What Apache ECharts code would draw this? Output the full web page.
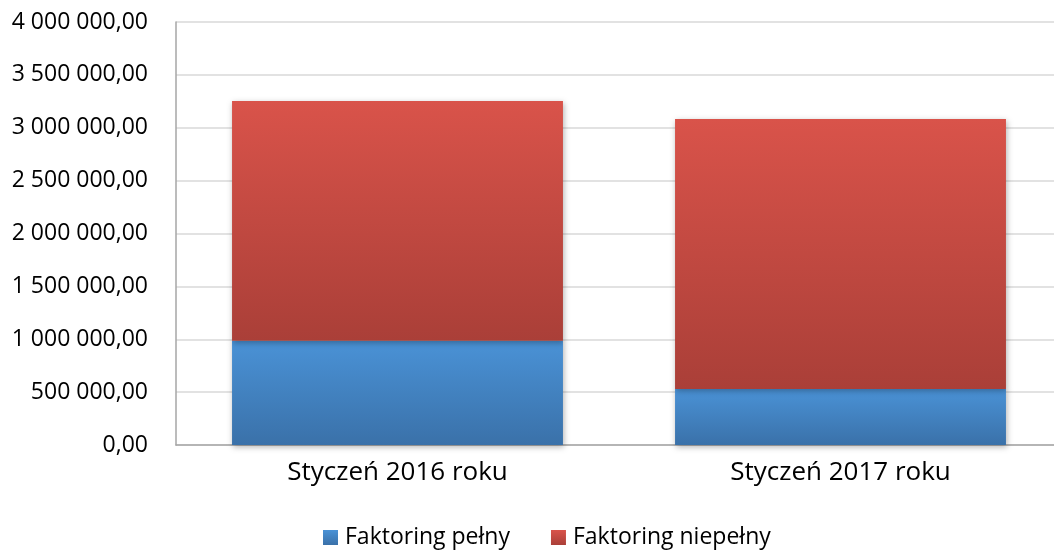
<!DOCTYPE html>
<html>
<head>
<meta charset="utf-8">
<script src="https://cdn.jsdelivr.net/npm/echarts@6/dist/echarts.min.js"></script>
<style>html,body{margin:0;padding:0;background:#fff;overflow:hidden;width:1054px;height:550px}#c{width:1062px;height:550px}</style>
</head>
<body>
<div id="c"></div>
<script>
const categories = ['Styczeń 2016 roku', 'Styczeń 2017 roku'];
const seriesNames = ['Faktoring pełny', 'Faktoring niepełny'];
const pelny = [985000, 530000];
const niepelny = [2268000, 2553000];
const yMin = 0, yMax = 4000000, yStep = 500000;

function fmt(v) {
  const s = Math.round(v).toString().replace(/\B(?=(\d{3})+(?!\d))/g, ' ');
  return s + ',00';
}
const FONT = 'Open Sans';
const chart = echarts.init(document.getElementById('c'));
chart.setOption({
  animation: false,
  textStyle: { fontFamily: FONT },
  grid: { left: 176, right: 0, top: 22, bottom: 105, containLabel: false },
  legend: {
    top: 521, left: 318,
    itemWidth: 15, itemHeight: 15, itemGap: 41,
    icon: 'rect',
    textStyle: { fontSize: 23, color: '#000', fontFamily: FONT, padding: [0, 0, 0, 2] },
    data: seriesNames
  },
  xAxis: {
    type: 'category', data: categories,
    axisLine: { lineStyle: { color: '#a6a6a6', width: 1.5 } },
    axisTick: { show: false },
    axisLabel: { fontSize: 26, color: '#000', margin: 15, fontFamily: FONT }
  },
  yAxis: {
    type: 'value', min: yMin, max: yMax, interval: yStep,
    axisLine: { show: true, lineStyle: { color: '#a6a6a6', width: 1.5 } },
    axisTick: { show: false },
    splitLine: { lineStyle: { color: '#d9d9d9', width: 1.5 } },
    axisLabel: { fontSize: 23, color: '#000', margin: 28, formatter: fmt, fontFamily: FONT }
  },
  series: [
    {
      name: seriesNames[0], type: 'bar', stack: 's', data: pelny, barWidth: '74.7%',
      itemStyle: {
        color: new echarts.graphic.LinearGradient(0, 0, 0, 1, [
          { offset: 0, color: '#4a92d6' }, { offset: 1, color: '#3a71a9' }
        ]),
        shadowBlur: 6, shadowColor: 'rgba(0,0,0,0.3)', shadowOffsetX: 1, shadowOffsetY: 2
      }
    },
    {
      name: seriesNames[1], type: 'bar', stack: 's', data: niepelny, barWidth: '74.7%',
      itemStyle: {
        color: new echarts.graphic.LinearGradient(0, 0, 0, 1, [
          { offset: 0, color: '#d9534a' }, { offset: 1, color: '#aa3f38' }
        ]),
        shadowBlur: 6, shadowColor: 'rgba(0,0,0,0.3)', shadowOffsetX: 1, shadowOffsetY: 2
      }
    }
  ]
});
</script>
</body>
</html>
